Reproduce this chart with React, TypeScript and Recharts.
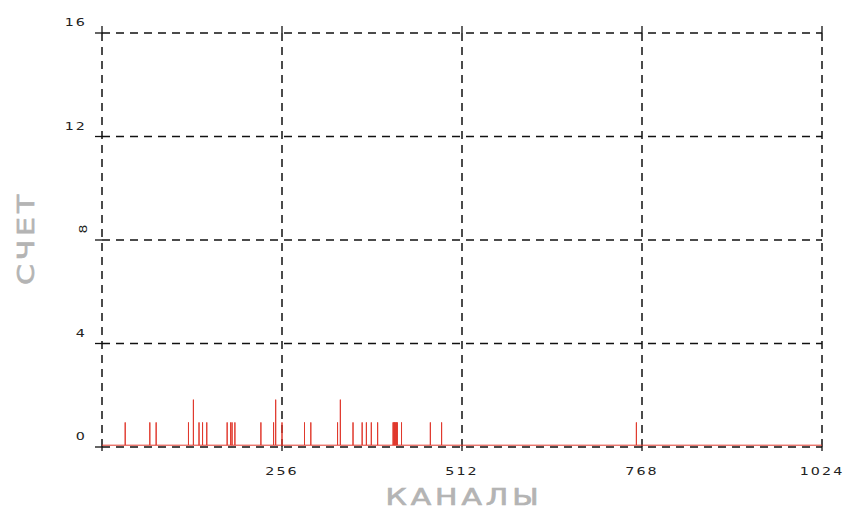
import { LineChart, Line, XAxis, YAxis, CartesianGrid, Label } from "recharts";

// channels that registered counts
const spikeChannels = [
  33, 68, 77, 123, 130, 138, 143, 149, 178, 183, 185, 189, 226, 244, 247, 256,
  288, 297, 335, 339, 357, 370, 376, 383, 392, 414, 415, 416, 417, 418, 419,
  420, 426, 467, 483, 760,
];
const spikeCounts = [
  0.95, 0.95, 0.95, 0.95, 1.83, 0.95, 0.95, 0.95, 0.95, 0.95, 0.95, 0.95, 0.95,
  0.95, 1.83, 0.95, 0.95, 0.95, 0.95, 1.83, 0.95, 0.95, 0.95, 0.95, 0.95, 0.95,
  0.95, 0.95, 0.95, 0.95, 0.95, 0.95, 0.95, 0.95, 0.95, 0.95,
];
const baseCount = 0.07;
const channelRange = [0, 1024];
const channelTicks = [0, 256, 512, 768, 1024];
const countTicks = [0, 4, 8, 12, 16];
const xTitle = "КАНАЛЫ";
const yTitle = "СЧЕТ";

// each spike becomes a vertical stroke: base -> peak -> base
const spectrum = [{ ch: channelRange[0], n: baseCount }];
spikeChannels.forEach((ch, i) => {
  spectrum.push({ ch, n: baseCount });
  spectrum.push({ ch, n: spikeCounts[i] });
  spectrum.push({ ch, n: baseCount });
});
spectrum.push({ ch: channelRange[1], n: baseCount });

const TICK_FONT = "'DejaVu Sans', sans-serif";

const XTick = (props: any) => {
  const { x, y, payload } = props;
  if (payload.value === 0) return <g />;
  return (
    <text
      transform={`translate(${x}, ${y + 22}) scale(1.3, 1)`}
      textAnchor="middle"
      fontFamily={TICK_FONT}
      fontSize={11}
      letterSpacing={1.6}
      fill="#222"
    >
      {payload.value}
    </text>
  );
};

const YTick = (props: any) => {
  const { x, y, payload } = props;
  if (payload.value === 8) {
    // the source plot draws this one label turned on its side
    return (
      <text
        transform={`translate(${x - 10}, ${y - 11}) rotate(-90) scale(1.3, 1)`}
        textAnchor="middle"
        dominantBaseline="central"
        fontFamily={TICK_FONT}
        fontSize={11}
        fill="#222"
      >
        {payload.value}
      </text>
    );
  }
  return (
    <text
      transform={`translate(${x - 6}, ${y - 7}) scale(1.3, 1)`}
      textAnchor="end"
      fontFamily={TICK_FONT}
      fontSize={11}
      letterSpacing={1.6}
      fill="#222"
    >
      {payload.value}
    </text>
  );
};

const NoTick = () => <g />;

const XTitle = (props: any) => {
  const vb = props.viewBox || { x: 102, y: 447, width: 720, height: 62 };
  return (
    <text
      transform={`translate(${vb.x + vb.width / 2 + 2}, ${vb.y + 58}) scale(1.3, 1)`}
      textAnchor="middle"
      fontFamily={TICK_FONT}
      fontSize={23}
      letterSpacing={3}
      fill="#b4b4b4"
      stroke="#b4b4b4"
      strokeWidth={0.7}
    >
      {xTitle}
    </text>
  );
};

const YTitle = (props: any) => {
  const vb = props.viewBox || { x: 0, y: 33, width: 102, height: 414 };
  return (
    <text
      transform={`translate(${vb.x + 34}, ${vb.y + vb.height / 2 - 2}) rotate(-90) scale(1.3, 1)`}
      textAnchor="middle"
      fontFamily={TICK_FONT}
      fontSize={23}
      letterSpacing={3}
      fill="#b4b4b4"
      stroke="#b4b4b4"
      strokeWidth={0.7}
    >
      {yTitle}
    </text>
  );
};

export default function App() {
  return (
    <div style={{ width: 859, height: 509, background: "#fff" }}>
      <style>{"body{margin:0}"}</style>
      <LineChart
        width={859}
        height={509}
        data={spectrum}
        margin={{ top: 26, right: 37, bottom: 0, left: 0 }}
      >
        <CartesianGrid
          stroke="#111"
          strokeWidth={1.5}
          strokeDasharray="8 6"
        />
        <XAxis
          dataKey="ch"
          type="number"
          domain={channelRange}
          ticks={channelTicks}
          allowDataOverflow
          height={62}
          axisLine={false}
          tickSize={4}
          tickLine={{ stroke: "#111", strokeWidth: 1.3 }}
          tick={<XTick />}
          interval={0}
        >
          <Label content={<XTitle />} />
        </XAxis>
        <XAxis
          xAxisId="top"
          orientation="top"
          dataKey="ch"
          type="number"
          domain={channelRange}
          ticks={channelTicks}
          allowDataOverflow
          height={7}
          axisLine={false}
          tickSize={7}
          tickLine={{ stroke: "#111", strokeWidth: 1.3 }}
          tick={<NoTick />}
          interval={0}
        />
        <YAxis
          type="number"
          domain={[0, 16]}
          ticks={countTicks}
          allowDataOverflow
          width={102}
          axisLine={false}
          tickSize={7}
          tickLine={{ stroke: "#111", strokeWidth: 1.3 }}
          tick={<YTick />}
          interval={0}
        >
          <Label content={<YTitle />} />
        </YAxis>
        <Line
          dataKey="n"
          type="linear"
          stroke="#e0392d"
          strokeWidth={1}
          dot={false}
          activeDot={false}
          isAnimationActive={false}
        />
      </LineChart>
    </div>
  );
}
